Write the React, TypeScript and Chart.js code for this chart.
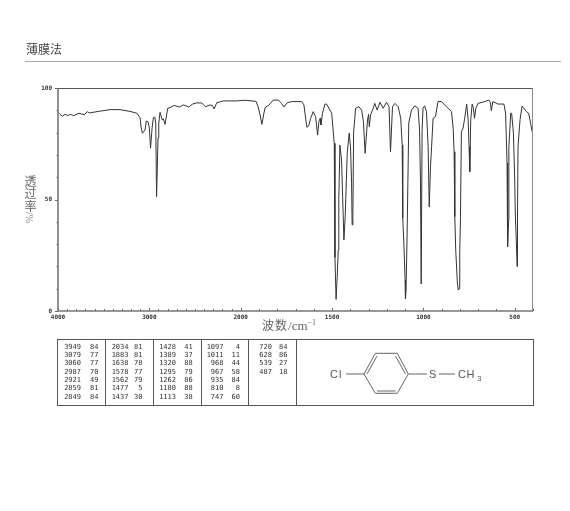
import React, { useEffect, useRef } from "react";
import { Chart, LinearScale, registerables } from "chart.js";

// ---------- data ----------
const wavenumbers = [
  4000, 3978, 3953, 3923, 3894, 3865, 3828, 3770, 3712, 3679, 3657, 3559, 3430, 3321, 3211, 3138, 3102, 3091, 3077, 3047,
  3033, 3014, 3000, 2987, 2970, 2956, 2941, 2930, 2921, 2905, 2897, 2883, 2858, 2847, 2828, 2799, 2773, 2729, 2671, 2628,
  2568, 2532, 2488, 2426, 2387, 2335, 2310, 2291, 2262, 2190, 2043, 1977, 1916, 1905, 1894, 1884, 1873, 1866, 1847, 1822,
  1794, 1776, 1763, 1745, 1721, 1666, 1654, 1647, 1638, 1628, 1617, 1603, 1590, 1579, 1572, 1565, 1561, 1552, 1539, 1530,
  1502, 1488, 1484, 1478, 1472, 1466, 1463, 1457, 1448, 1442, 1435, 1428, 1417, 1406, 1399, 1393, 1390, 1386, 1382, 1371, 1353, 1338, 1328,
  1319, 1306, 1300, 1296, 1289, 1278, 1266, 1253, 1238, 1220, 1202, 1188, 1180, 1169, 1156, 1138, 1124, 1116, 1113, 1107,
  1100, 1098, 1095, 1089, 1080, 1065, 1047, 1029, 1021, 1016, 1012, 1007, 1002, 993, 983, 974, 968, 961, 955, 947,
  934, 920, 901, 874, 846, 837, 832, 828, 823, 814, 809, 804, 801, 797, 792, 783, 774, 763, 755, 750, 746,
  741, 733, 726, 720, 713, 701, 664, 642, 633, 628, 620, 592, 559, 550, 542, 539, 533, 532, 522, 517,
  507, 500, 497, 491, 487, 485, 482, 471, 460, 436, 424, 413, 404,
];
const transmittance = [
  89.1, 88.2, 87.3, 88.2, 87.6, 88.2, 87.6, 88.7, 88.0, 89.4, 88.8, 89.5, 90.3, 90.3, 89.5, 88.7, 86.7, 82.6, 79.7, 81.2,
  85.2, 84.8, 82, 73, 82, 86.7, 87, 84.3, 51.3, 77.6, 84.3, 89.1, 85.6, 86.2, 83.7, 90.9, 91.2, 92.2, 91.5, 92.4,
  91.5, 92.7, 93.3, 93.3, 91.6, 92.4, 92.2, 90.6, 93.4, 94.2, 94.2, 94.5, 94, 91.6, 87.9, 83.7, 88.7, 91.3, 92.2, 94.6,
  94.6, 93.1, 91.5, 93.4, 93.9, 93.9, 92.4, 87.9, 82.4, 83, 86.4, 89.4, 87.1, 78.9, 84.9, 86.4, 83.4, 88.7, 92.8, 92.8,
  88.7, 75.2, 24, 5.2, 15, 27.4, 50, 74.4, 67.7, 51.3, 31.8, 42.3, 70.7, 79.8, 73.7, 57.4, 38.6, 42.3, 79.8, 90.9, 91.6, 90.1, 84.9,
  70.7, 85.7, 88.2, 82.7, 88, 90.1, 93.1, 90.1, 93.6, 90.9, 93.6, 91.6, 71.4, 91.6, 93.1, 91.6, 86.4, 74.4, 41.7, 30.5,
  13.9, 5.4, 9.4, 35, 84.3, 90.1, 92, 90.9, 81.2, 58.7, 12.1, 81, 90.9, 92, 89.4, 73.7, 46.6, 64.7, 73.7, 86.4,
  87.1, 93.9, 93.9, 91.6, 89.4, 81.9, 71.4, 42.3, 27.4, 12.5, 9.4, 10, 27, 42, 80.4, 82, 86.4, 92.8, 85.7, 73.7, 62.5,
  85.7, 92.8, 90.9, 86.4, 90.9, 93.1, 93.9, 94.6, 93.4, 89.8, 93.9, 92.8, 92.8, 88.7, 66.4, 28.8, 40.8, 73.7, 88.7, 88.7,
  79.7, 58.7, 43.9, 30.5, 19.9, 40.8, 73.7, 85.7, 91.9, 89.4, 88.7, 84.2, 80.1,
];
const xMajorLabels = [4000, 3000, 2000, 1500, 1000, 500];
const xTickValues = [
  4000, 3900, 3800, 3700, 3600, 3500, 3400, 3300, 3200, 3100, 3000, 2900, 2800, 2700, 2600, 2500, 2400, 2300, 2200, 2100,
  2000, 1900, 1800, 1700, 1600, 1500, 1400, 1300, 1200, 1100, 1000, 900, 800, 700, 600, 500, 400,
];
const yMajorLabels = [0, 50, 100];
const peakWavenumbers = [
  ["3949", "3079", "3060", "2987", "2921", "2859", "2849"],
  ["2034", "1883", "1638", "1578", "1562", "1477", "1437"],
  ["1428", "1389", "1320", "1295", "1262", "1180", "1113"],
  ["1097", "1011", "968", "967", "935", "810", "747"],
  ["720", "628", "539", "487"],
];
const peakValues = [
  ["84", "77", "77", "70", "49", "81", "84"],
  ["81", "81", "78", "77", "79", "5", "30"],
  ["41", "37", "88", "79", "86", "88", "38"],
  ["4", "11", "44", "58", "84", "8", "60"],
  ["84", "86", "27", "18"],
];

// ---------- layout ----------
const PLOT = { left: 58, right: 533, top: 88, bottom: 311 };
const BREAK_FRACTION = 182.7 / 475;
const numberRight = [81, 128.5, 176, 223.5, 272];
const valueRight = [98.5, 142.5, 192.8, 240, 287.5];
const dividers = [105, 152.7, 200.7, 247.7, 295.8];
const rowTops = [342.5, 351, 359.3, 367.7, 376, 384.4, 392.8];
const TEXT = "#666";

// IR charts double the x scale below 2000 cm-1
class IrScale extends LinearScale {
  static id = "irScale";
  static defaults = LinearScale.defaults;
  getPixelForValue(v: number) {
    const f =
      v >= 2000
        ? ((4000 - v) / 2000) * BREAK_FRACTION
        : BREAK_FRACTION + ((2000 - v) / 1600) * (1 - BREAK_FRACTION);
    return this.getPixelForDecimal(f);
  }
  getValueForPixel(p: number) {
    const f = this.getDecimalForPixel(p);
    return f <= BREAK_FRACTION
      ? 4000 - (f / BREAK_FRACTION) * 2000
      : 2000 - ((f - BREAK_FRACTION) / (1 - BREAK_FRACTION)) * 1600;
  }
}

const framePlugin = {
  id: "irFrame",
  afterDraw(chart: any) {
    const { ctx, chartArea: a, scales } = chart;
    ctx.save();
    ctx.strokeStyle = "#666";
    ctx.lineWidth = 1;
    scales.x.ticks.forEach((t: any) => {
      const px = Math.round(scales.x.getPixelForValue(t.value)) + 0.5;
      const major = xMajorLabels.includes(t.value);
      ctx.beginPath();
      ctx.moveTo(px, a.bottom);
      ctx.lineTo(px, a.bottom - (major ? 3 : 2));
      ctx.stroke();
    });
    scales.y.ticks.forEach((t: any) => {
      const py = Math.round(scales.y.getPixelForValue(t.value)) + 0.5;
      const major = yMajorLabels.includes(t.value);
      ctx.beginPath();
      ctx.moveTo(a.left, py);
      ctx.lineTo(a.left - (major ? 3 : 1.5), py);
      ctx.stroke();
    });
    ctx.strokeStyle = "#555";
    ctx.beginPath();
    ctx.moveTo(a.left, a.top + 0.5);
    ctx.lineTo(a.right, a.top + 0.5);
    ctx.stroke();
    ctx.strokeStyle = "#888";
    ctx.beginPath();
    ctx.moveTo(a.right - 0.5, a.top);
    ctx.lineTo(a.right - 0.5, a.bottom);
    ctx.stroke();
    ctx.strokeStyle = "#777";
    ctx.lineWidth = 1.6;
    ctx.beginPath();
    ctx.moveTo(a.left, a.top);
    ctx.lineTo(a.left, a.bottom);
    ctx.lineTo(a.right, a.bottom);
    ctx.stroke();
    ctx.restore();
  },
};

Chart.register(...registerables, IrScale);

const abs = (left: number, top: number, extra: React.CSSProperties = {}): React.CSSProperties => ({
  position: "absolute",
  left,
  top,
  whiteSpace: "nowrap",
  ...extra,
});

function cellStyle(right: number, top: number): React.CSSProperties {
  return {
    position: "absolute",
    left: right - 40,
    width: 40,
    top,
    textAlign: "right",
    fontFamily: "'DejaVu Sans Mono', monospace",
    fontSize: 7,
    lineHeight: "8px",
    color: "#333",
  };
}

export default function App() {
  const ref = useRef<HTMLCanvasElement>(null);
  useEffect(() => {
    const chart = new Chart(ref.current!, {
      type: "line",
      data: {
        datasets: [
          {
            data: wavenumbers.map((x, i) => ({ x, y: transmittance[i] })),
            borderColor: "#333",
            borderWidth: 1,
            pointRadius: 0,
            tension: 0,
            fill: false,
          },
        ],
      },
      options: {
        animation: false,
        responsive: false,
        layout: { padding: { left: 0, top: PLOT.top, right: 570 - PLOT.right, bottom: 0 } },
        plugins: { legend: { display: false }, tooltip: { enabled: false } },
        scales: {
          x: {
            type: "irScale" as any,
            min: 400,
            max: 4000,
            afterBuildTicks: (s: any) => {
              s.ticks = xTickValues.map((value) => ({ value }));
            },
            afterFit: (s: any) => {
              s.height = 511 - PLOT.bottom;
            },
            grid: { display: false, drawTicks: false },
            border: { display: false },
            ticks: {
              autoSkip: false,
              maxRotation: 0,
              padding: 3,
              color: "#333",
              font: { family: "'DejaVu Sans Mono', monospace", size: 6, weight: "bold" },
              callback: (v: any) => (xMajorLabels.includes(v) ? String(v) : ""),
            },
          },
          y: {
            type: "linear",
            min: 0,
            max: 100,
            afterFit: (s: any) => {
              s.width = PLOT.left;
            },
            grid: { display: false, drawTicks: false },
            border: { display: false },
            ticks: {
              stepSize: 10,
              autoSkip: false,
              padding: 6,
              color: "#333",
              font: { family: "'DejaVu Sans Mono', monospace", size: 6, weight: "bold" },
              callback: (v: any) => (yMajorLabels.includes(v) ? String(v) : ""),
            },
          },
        },
      },
      plugins: [framePlugin],
    });
    return () => chart.destroy();
  }, []);

  const cjk = "'Noto Sans CJK SC', sans-serif";
  return (
    <div style={{ position: "absolute", left: 0, top: 0, width: 570, height: 511, background: "#fff", overflow: "hidden" }}>
      <canvas ref={ref} width={570} height={511} style={{ position: "absolute", left: 0, top: 0 }} />
      <div style={abs(26, 41, { fontFamily: cjk, fontSize: 12, lineHeight: "16px", color: "#444" })}>薄膜法</div>
      <div style={{ position: "absolute", left: 25, top: 61, width: 536, height: 1, background: "#aaa" }} />

      {["透", "过", "率"].map((c, i) => (
        <div key={c} style={abs(24.5, 172.5 + i * 12.5, { fontFamily: cjk, fontSize: 12, lineHeight: "15px", color: TEXT })}>
          {c}
        </div>
      ))}
      <div
        style={abs(24, 212, {
          fontFamily: "'Liberation Serif', serif",
          fontSize: 10,
          lineHeight: "13px",
          color: "#888",
          transform: "rotate(90deg) translate(0px, -12px)",
          transformOrigin: "0 0",
        })}
      >
        /%
      </div>
      <div style={abs(262, 317, { fontFamily: cjk, fontSize: 12, lineHeight: "16px", letterSpacing: 1, color: TEXT })}>
        波数
        <span style={{ fontFamily: "'Liberation Serif', serif", fontSize: 13, letterSpacing: 0 }}>
          /cm<sup style={{ fontSize: 8, lineHeight: 0 }}>−1</sup>
        </span>
      </div>

      <div style={{ position: "absolute", left: 57, top: 339, width: 475, height: 65, border: "1px solid #555", boxSizing: "content-box" }} />
      {dividers.map((x) => (
        <div key={x} style={{ position: "absolute", left: x, top: 340, width: 1, height: 65, background: "#555" }} />
      ))}
      {peakWavenumbers.map((col, c) =>
        col.map((n, r) => (
          <React.Fragment key={n}>
            <div style={cellStyle(numberRight[c], rowTops[r])}>{n}</div>
            <div style={cellStyle(valueRight[c], rowTops[r])}>{peakValues[c][r]}</div>
          </React.Fragment>
        )),
      )}

      <svg width={570} height={511} style={{ position: "absolute", left: 0, top: 0, pointerEvents: "none" }}>
        <g stroke="#666" strokeWidth={1} fill="none">
          <polygon points="364,374 375.3,353.3 397.3,353.3 408.3,374 397.3,393.3 375.3,393.3" />
          <line x1={367} y1={374} x2={377} y2={356} />
          <line x1={395.5} y1={356} x2={405.5} y2={374} />
          <line x1={377} y1={391} x2={395.5} y2={391} />
          <line x1={346} y1={374} x2={364} y2={374} />
          <line x1={408.3} y1={374} x2={427} y2={374} />
          <line x1={439} y1={374} x2={455} y2={374} />
        </g>
        <g fill="#555" fontFamily="'Liberation Sans', sans-serif" fontSize={11}>
          <text x={330} y={378} letterSpacing={1}>Cl</text>
          <text x={429} y={378}>S</text>
          <text x={458} y={378} letterSpacing={0.5}>CH</text>
          <text x={477} y={381} fontSize={8}>3</text>
        </g>
      </svg>
    </div>
  );
}
